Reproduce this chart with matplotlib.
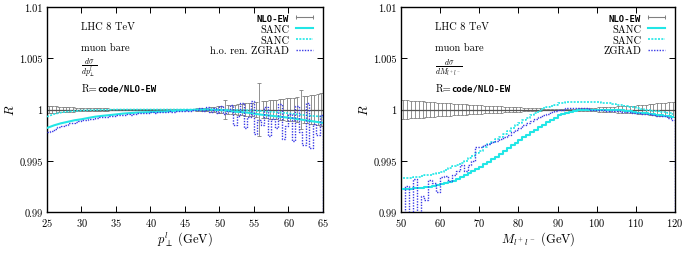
import numpy as np
import matplotlib
matplotlib.use('Agg')
import matplotlib.pyplot as plt
from matplotlib.lines import Line2D

plt.rcParams['font.family'] = ['cmr10', 'DejaVu Serif']
plt.rcParams['mathtext.fontset'] = 'cm'
plt.rcParams['axes.formatter.use_mathtext'] = True
plt.rcParams['axes.unicode_minus'] = False

# ---- donnees : panneau gauche (p_T du lepton), bins de 0.5 GeV
pt_edges = np.arange(25.0, 65.01, 0.5)
pt_err = [0.00035, 0.00033, 0.00030, 0.00028, 0.00026, 0.00024, 0.00022, 0.00020,
          0.00019, 0.00018, 0.00017, 0.00016, 0.00015, 0.00014, 0.00013, 0.00012,
          0.00011, 0.00010, 0.00009, 0.00009, 0.00008, 0.00008, 0.00007, 0.00007,
          0.00006, 0.00006, 0.00005, 0.00005, 0.00004, 0.00004, 0.00004, 0.00003,
          0.00003, 0.00003, 0.00003, 0.00003, 0.00003, 0.00003, 0.00003, 0.00003,
          0.00005, 0.00006, 0.00008, 0.00010, 0.00012, 0.00015, 0.00018, 0.00022,
          0.00026, 0.00030, 0.00034, 0.00090, 0.00040, 0.00044, 0.00048, 0.00052,
          0.00056, 0.00060, 0.00064, 0.00068, 0.00072, 0.00260, 0.00080, 0.00084,
          0.00088, 0.00092, 0.00096, 0.00100, 0.00104, 0.00108, 0.00112, 0.00116,
          0.00120, 0.00190, 0.00128, 0.00132, 0.00137, 0.00143, 0.00150, 0.00165]
pt_zgrad = [0.9978, 0.99795, 0.9981, 0.99825, 0.9984, 0.9985, 0.99865, 0.9987,
            0.99875, 0.9989, 0.99895, 0.9990, 0.99905, 0.9991, 0.9992, 0.99925,
            0.9993, 0.9993, 0.99935, 0.9994, 0.99945, 0.9995, 0.9995, 0.9996,
            0.9995, 0.9996, 0.99965, 0.9997, 0.99965, 0.9997, 0.99975, 0.9997,
            0.9998, 0.99975, 0.9998, 0.99985, 0.9998, 0.9999, 0.99985, 0.9999,
            0.99995, 0.9999, 1.0, 0.99995, 1.0001, 0.9999, 1.0002, 0.9998,
            1.0001, 0.9997, 1.0003, 0.9996, 0.9999, 1.0004, 0.9985, 0.9994,
            1.0006, 0.9982, 0.9993, 1.0008, 0.9976, 0.9990, 0.9985, 1.0002,
            0.9974, 0.9991, 0.9982, 1.0005, 0.9971, 0.9984, 0.9996, 0.9969,
            1.0003, 0.9978, 0.9965, 1.0006, 0.9962, 0.9986, 0.9975, 0.9995]
pt_line = np.arange(25, 66, 1)
pt_sanc = [0.9982, 0.99845, 0.99865, 0.9988, 0.99895, 0.99905, 0.99918, 0.9993,
           0.99938, 0.99945, 0.99952, 0.9996, 0.99965, 0.9997, 0.99973, 0.99975,
           0.99978, 0.9998, 0.99985, 0.9999, 0.99993, 0.99995, 0.99998, 1.0,
           0.99998, 0.99995, 0.9999, 0.9998, 0.99975, 0.9997, 0.9996, 0.9995,
           0.99943, 0.99935, 0.99928, 0.9992, 0.9991, 0.9990, 0.9989, 0.9988, 0.9987]
pt_sanc2 = [0.9993, 0.99955, 0.9997, 0.9998, 0.99985, 0.9999, 0.99993, 0.99995,
            0.99997, 0.99998, 1.0, 1.0, 1.0, 1.0, 1.0, 1.0,
            1.0, 1.0, 1.0, 1.0, 1.0, 1.0, 1.0, 1.0,
            1.0, 1.0, 0.99998, 0.99997, 0.99995, 0.99993, 0.9999, 0.99985,
            0.9998, 0.99975, 0.9997, 0.99963, 0.99955, 0.99948, 0.9994, 0.99935, 0.9993]

# ---- donnees : panneau droit (masse invariante), bins de 1 GeV
m_edges = np.arange(50.0, 120.01, 1.0)
m_err = [0.00090, 0.00088, 0.00086, 0.00084, 0.00082, 0.00080, 0.00076, 0.00072,
         0.00070, 0.00068, 0.00066, 0.00063, 0.00060, 0.00058, 0.00055, 0.00052,
         0.00050, 0.00048, 0.00045, 0.00042, 0.00040, 0.00038, 0.00036, 0.00034,
         0.00032, 0.00030, 0.00028, 0.00026, 0.00024, 0.00022, 0.00020, 0.00018,
         0.00016, 0.00014, 0.00012, 0.00010, 0.00008, 0.00006, 0.00005, 0.00004,
         0.00003, 0.00004, 0.00005, 0.00006, 0.00008, 0.00010, 0.00012, 0.00014,
         0.00016, 0.00018, 0.00020, 0.00022, 0.00024, 0.00026, 0.00028, 0.00030,
         0.00032, 0.00034, 0.00036, 0.00038, 0.00040, 0.00044, 0.00048, 0.00052,
         0.00056, 0.00060, 0.00064, 0.00068, 0.00072, 0.00078]
m_sanc = [0.9922, 0.9922, 0.99225, 0.9923, 0.99232, 0.99235, 0.9924, 0.99248,
          0.99255, 0.99262, 0.9927, 0.9928, 0.9929, 0.99305, 0.9932, 0.9934,
          0.9936, 0.9938, 0.994, 0.9942, 0.9944, 0.9947, 0.9949, 0.9952,
          0.9954, 0.9957, 0.9960, 0.9962, 0.9965, 0.9967, 0.9970, 0.9973,
          0.9975, 0.9978, 0.9980, 0.9983, 0.9985, 0.9988, 0.9990, 0.9992,
          0.99945, 0.9996, 0.9997, 0.9998, 0.9999, 0.99995, 1.0, 1.0,
          1.0, 1.0, 1.0, 1.0, 1.0, 0.99998, 0.99997, 0.99995,
          0.99992, 0.9999, 0.99985, 0.9998, 0.9997, 0.99966, 0.99962, 0.99958,
          0.99954, 0.9995, 0.99945, 0.9994, 0.99935, 0.9993]
m_sanc2 = [0.9933, 0.99332, 0.99335, 0.9934, 0.99345, 0.9935, 0.99357, 0.99365,
           0.99372, 0.9938, 0.9939, 0.9941, 0.9943, 0.99445, 0.9946, 0.9948,
           0.995, 0.9953, 0.9955, 0.9958, 0.9960, 0.9963, 0.9966, 0.9968,
           0.9971, 0.9973, 0.9976, 0.9979, 0.9982, 0.9985, 0.9987, 0.9990,
           0.9992, 0.9995, 0.9997, 0.9999, 1.0001, 1.0002, 1.0003, 1.00045,
           1.0006, 1.00065, 1.0007, 1.0007, 1.0007, 1.0007, 1.0007, 1.0007,
           1.0007, 1.0007, 1.0007, 1.00068, 1.00065, 1.0006, 1.00052, 1.00045,
           1.0004, 1.00032, 1.00025, 1.0002, 1.0001, 1.00005, 1.0, 0.99995,
           0.9999, 0.99985, 0.9998, 0.99975, 0.9997, 0.9996]
m_zgrad = [0.9895, 0.9925, 0.9893, 0.9932, 0.9897, 0.9916, 0.9912, 0.9931,
           0.9928, 0.9920, 0.9934, 0.9935, 0.9930, 0.9936, 0.9940, 0.9946,
           0.9940, 0.9946, 0.9950, 0.9963, 0.9963, 0.9965, 0.9966, 0.9968,
           0.9969, 0.9971, 0.9973, 0.9975, 0.9978, 0.9980, 0.9982, 0.9985,
           0.9987, 0.9989, 0.9991, 0.9993, 0.9995, 0.9996, 0.9998, 0.9999,
           1.0, 1.0, 1.0001, 1.0001, 1.0001, 1.0001, 1.0001, 1.0001,
           1.0, 1.0, 1.0, 0.99995, 0.9999, 0.9999, 0.9999, 0.99985,
           0.9998, 0.9998, 0.99975, 0.9997, 0.99965, 0.9996, 0.9996, 0.99955,
           0.9995, 0.9994, 0.9994, 0.99935, 0.9992, 0.9990]

y_ticks = [0.99, 0.995, 1.0, 1.005, 1.01]
y_ticklabels = ['0.99', '0.995', '1', '1.005', '1.01']

cyan = '#22e6e6'
blue = '#3a3ae6'
grey = '#808080'


def draw_panel(ax, edges, err, zgrad, xl, sanc, sanc2, zlabel, xticks, xlabel, frac, cap):
    centers = 0.5 * (edges[:-1] + edges[1:])
    ax.errorbar(centers, np.ones(len(centers)), yerr=err, fmt='none', ecolor=grey,
                elinewidth=0.6, capsize=cap, capthick=0.6, zorder=2)
    ax.plot([edges[0], edges[-1]], [1, 1], color='#555555', lw=0.9, zorder=2)
    style = 'steps-mid' if len(xl) > 50 else 'default'
    l1, = ax.plot(xl, sanc, color=cyan, lw=1.5, zorder=3, drawstyle=style)
    l2, = ax.plot(xl, sanc2, color=cyan, lw=1.2, ls=(0, (1.2, 0.8)), zorder=3,
                  drawstyle=style)
    l3, = ax.step(np.append(edges, edges[-1]), [zgrad[0]] + list(zgrad) + [0.98],
                  where='pre', color=blue, lw=1.0, ls=(0, (1, 1)), zorder=4)
    ax.set_xlim(edges[0], edges[-1])
    ax.set_ylim(0.99, 1.01)
    ax.set_yticks(y_ticks)
    ax.set_yticklabels(y_ticklabels)
    ax.set_xticks(xticks)
    ax.tick_params(direction='in', top=True, right=True, length=4, width=0.7,
                   labelsize=7.5, pad=3)
    for s in ax.spines.values():
        s.set_linewidth(1.0)
    ax.set_xlabel(xlabel, fontsize=9, labelpad=1)
    ax.set_ylabel('$R$', fontsize=9, labelpad=2)

    # echantillon de legende style gnuplot : trait horizontal avec petites barres
    eb_handle = Line2D([], [], color=grey, lw=0.8, marker='|', markersize=3.5,
                       markeredgewidth=0.7)
    leg = ax.legend([eb_handle, l1, l2, l3], ['NLO-EW', 'SANC', 'SANC', zlabel],
                    loc='upper right', frameon=False, markerfirst=False, fontsize=7.5,
                    handlelength=2.2, labelspacing=0.12, borderaxespad=0.25,
                    handletextpad=0.4, alignment='right', numpoints=2)
    leg.get_texts()[0].set_fontfamily('DejaVu Sans Mono')
    leg.get_texts()[0].set_fontweight('bold')
    leg.get_texts()[0].set_fontsize(6.5)

    x0 = 0.125
    ax.text(x0, 0.905, 'LHC 8 TeV', transform=ax.transAxes, fontsize=7.5, va='center')
    ax.text(x0, 0.805, 'muon bare', transform=ax.transAxes, fontsize=7.5, va='center')
    ax.text(x0, 0.71, frac, transform=ax.transAxes, fontsize=8, va='center')
    t1 = ax.text(x0, 0.605, 'R=', transform=ax.transAxes, fontsize=7.5, va='center')
    ax.annotate('code/NLO-EW', xy=(1, 0.5), xycoords=t1, va='center', fontsize=6.5,
                family='DejaVu Sans Mono', fontweight='bold')


fig = plt.figure(figsize=(6.85, 2.55), dpi=100)
ax1 = fig.add_axes([0.0686, 0.1647, 0.4029, 0.8039])
ax2 = fig.add_axes([0.5854, 0.1647, 0.4000, 0.8039])

draw_panel(ax1, pt_edges, pt_err, pt_zgrad, pt_line, pt_sanc, pt_sanc2,
           'h.o. ren. ZGRAD', np.arange(25, 66, 5), r'$p_\perp^l$ (GeV)',
           r'$\frac{d\sigma}{dp_\perp^l}$', 1.2)
m_centers = 0.5 * (m_edges[:-1] + m_edges[1:])
draw_panel(ax2, m_edges, m_err, m_zgrad, m_centers, m_sanc, m_sanc2,
           'ZGRAD', np.arange(50, 121, 10), r'$M_{l^+l^-}$ (GeV)',
           r'$\frac{d\sigma}{dM_{l^+l^-}}$', 1.4)

fig.savefig('out.png', dpi=100)
